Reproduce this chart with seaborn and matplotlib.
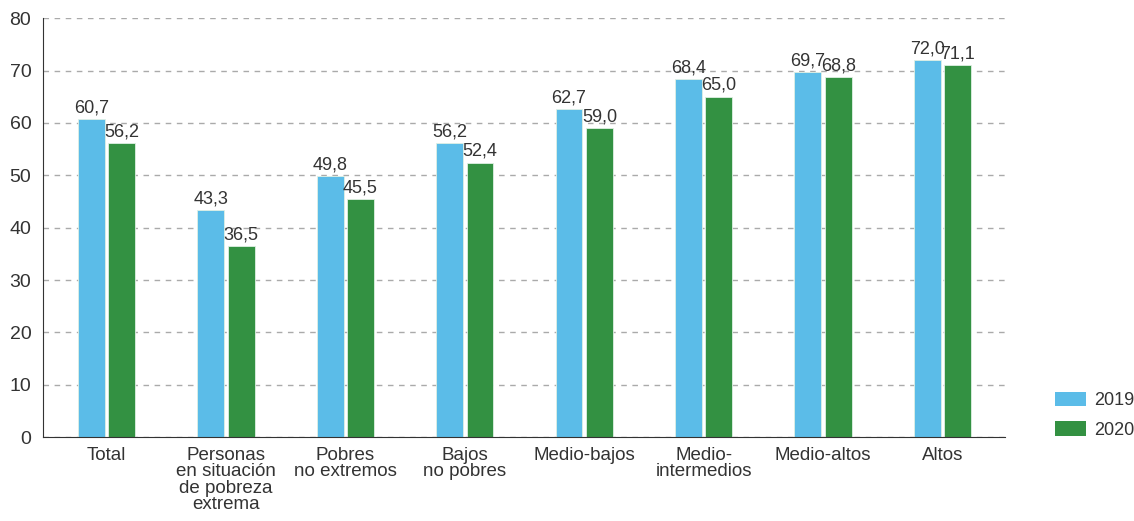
import numpy as np
import pandas as pd
import matplotlib
matplotlib.use("Agg")
import matplotlib.pyplot as plt
import seaborn as sns
from matplotlib.patches import Patch

categories = ["Total", "Personas\nen situación\nde pobreza\nextrema", "Pobres\nno extremos",
              "Bajos\nno pobres", "Medio-bajos", "Medio-\nintermedios", "Medio-altos", "Altos"]
values_2019 = [60.7, 43.3, 49.8, 56.2, 62.7, 68.4, 69.7, 72.0]
values_2020 = [56.2, 36.5, 45.5, 52.4, 59.0, 65.0, 68.8, 71.1]
years = ["2019", "2020"]
colors = ["#5BBCE8", "#339142"]

df = pd.DataFrame({
    "categoria": categories * 2,
    "valor": values_2019 + values_2020,
    "anio": [years[0]] * len(categories) + [years[1]] * len(categories),
})

sns.set_style("white")
plt.rcParams["font.family"] = ["Liberation Sans", "DejaVu Sans"]
plt.rcParams["text.color"] = "#333333"
plt.rcParams["xtick.color"] = "#333333"
plt.rcParams["ytick.color"] = "#333333"

fig = plt.figure(figsize=(11.34, 5.21), dpi=100)
ax = fig.add_axes([0.038, 0.161, 0.848, 0.804])

sns.barplot(data=df, x="categoria", y="valor", hue="anio", palette=colors,
            saturation=1, width=0.51, gap=0.115, edgecolor="#dff0e4", linewidth=0.6,
            legend=False, ax=ax)

# value labels
for container in ax.containers:
    labels = [f"{v:.1f}".replace(".", ",") for v in container.datavalues]
    ax.bar_label(container, labels=labels, padding=2, fontsize=13, color="#333333")

ax.set_ylim(0, 80)
ax.set_xlim(-0.53, len(categories) - 0.48)
ax.set_yticks(np.arange(0, 81, 10))
ax.yaxis.grid(True, linestyle=(0, (4, 4)), color="#aaaaaa", linewidth=1)
ax.set_axisbelow(True)

# ticks at category boundaries, labels centered
ax.set_xticks(np.arange(-0.5, len(categories), 1.0))
ax.set_xticklabels([])
ax.set_xticks(np.arange(len(categories)), minor=True)
ax.set_xticklabels(categories, minor=True, fontsize=13.5, linespacing=0.95)
ax.tick_params(axis="x", which="major", length=6, width=1, color="#333333", direction="out")
ax.tick_params(axis="x", which="minor", length=0, pad=7)
ax.tick_params(axis="y", length=5, width=1, labelsize=14, direction="out", color="#333333")

for s in ["top", "right"]:
    ax.spines[s].set_visible(False)
ax.spines["left"].set_color("#333333")
ax.spines["bottom"].set_color("#333333")
ax.set_xlabel("")
ax.set_ylabel("")

handles = [Patch(facecolor=c, edgecolor="none") for c in colors]
fig.legend(handles, years, loc="lower left", bbox_to_anchor=(0.930, 0.158),
           frameon=False, fontsize=13, handlelength=1.75, handleheight=0.9,
           handletextpad=0.45, labelspacing=0.65, borderpad=0, borderaxespad=0)

fig.savefig("out.png", dpi=100)
